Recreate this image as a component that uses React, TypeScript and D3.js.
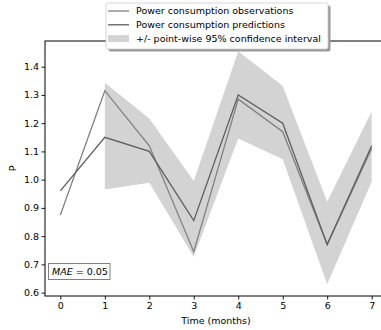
import * as d3 from "d3";
import { useRef, useEffect } from "react";

// months on the x axis
const months = [0, 1, 2, 3, 4, 5, 6, 7];
// observed power consumption
const observations = [0.875, 1.315, 1.12, 0.745, 1.285, 1.17, 0.77, 1.11];
// model predictions
const predictions = [0.96, 1.15, 1.10, 0.855, 1.30, 1.20, 0.77, 1.12];
// confidence interval (starts at month 1)
const ciMonths = [1, 2, 3, 4, 5, 6, 7];
const ciUpper = [1.343, 1.217, 0.995, 1.455, 1.332, 0.922, 1.241];
const ciLower = [0.965, 0.989, 0.727, 1.146, 1.072, 0.630, 0.993];
const yTicks = [0.6, 0.7, 0.8, 0.9, 1.0, 1.1, 1.2, 1.3, 1.4];
const legendLabels = [
  "Power consumption observations",
  "Power consumption predictions",
  "+/- point-wise 95% confidence interval",
];

const W = 381;
const H = 330;
const FONT = "DejaVu Sans, sans-serif";
const FS = 9.5;
const OBS_COLOR = "#808080";
const PRED_COLOR = "#5e5e5e";
const BAND_COLOR = "#d3d3d3";

export default function App() {
  const svgRef = useRef<SVGSVGElement>(null);

  useEffect(() => {
    const svg = d3.select(svgRef.current);
    svg.selectAll("*").remove();

    const left = 45, top = 41, right = 387, bottom = 296;

    const x = d3.scaleLinear().domain([-0.345, 7.345]).range([left, right]);
    const y = d3.scaleLinear().domain([0.588, 1.491]).range([bottom, top]);

    const g = svg.append("g");

    // confidence band
    const area = d3.area<number>()
      .x((d, i) => x(ciMonths[i]))
      .y0((d, i) => y(ciLower[i]))
      .y1((d) => y(d));
    g.append("path").attr("d", area(ciUpper)).attr("fill", BAND_COLOR);

    const line = d3.line<number>().x((d, i) => x(months[i])).y((d) => y(d));
    g.append("path").attr("d", line(observations)).attr("fill", "none")
      .attr("stroke", OBS_COLOR).attr("stroke-width", 1.3);
    g.append("path").attr("d", line(predictions)).attr("fill", "none")
      .attr("stroke", PRED_COLOR).attr("stroke-width", 1.3);

    // axes
    const xAxis = g.append("g").attr("transform", `translate(0,${bottom})`)
      .call(d3.axisBottom(x).tickValues(months).tickFormat(d3.format("d")).tickSize(3.5).tickSizeOuter(0).tickPadding(3));
    const yAxis = g.append("g").attr("transform", `translate(${left},0)`)
      .call(d3.axisLeft(y).tickValues(yTicks).tickFormat(d3.format(".1f")).tickSize(3.5).tickSizeOuter(0).tickPadding(2.5));
    [xAxis, yAxis].forEach((a) => {
      a.select(".domain").remove();
      a.selectAll("text").attr("font-family", FONT).attr("font-size", FS).attr("fill", "#000");
      a.selectAll("line").attr("stroke", "#000").attr("stroke-width", 0.9);
    });

    // spines
    g.append("rect").attr("x", left).attr("y", top).attr("width", right - left).attr("height", bottom - top)
      .attr("fill", "none").attr("stroke", "#000").attr("stroke-width", 1);

    // axis labels
    svg.append("text").attr("x", (left + right) / 2).attr("y", 324).attr("text-anchor", "middle")
      .attr("font-family", FONT).attr("font-size", FS).text("Time (months)");
    svg.append("text").attr("transform", `translate(16,${(top + bottom) / 2}) rotate(-90)`).attr("text-anchor", "middle")
      .attr("font-family", FONT).attr("font-size", FS).text("P");

    // MAE box
    svg.append("rect").attr("x", 48.5).attr("y", 263.5).attr("width", 61.5).attr("height", 16)
      .attr("fill", "#fff").attr("stroke", "#808080").attr("stroke-width", 1);
    const mae = svg.append("text").attr("x", 52).attr("y", 275).attr("font-family", FONT).attr("font-size", FS);
    mae.append("tspan").attr("font-style", "italic").text("MAE");
    mae.append("tspan").text(" = 0.05");

    // legend with shadow
    const lx = 106, ly = 3, lw = 222, lh = 46;
    svg.append("rect").attr("x", lx + 2.5).attr("y", ly + 2.5).attr("width", lw).attr("height", lh).attr("rx", 2)
      .attr("fill", "#9a9a9a");
    svg.append("rect").attr("x", lx).attr("y", ly).attr("width", lw).attr("height", lh).attr("rx", 2)
      .attr("fill", "#fff").attr("stroke", "#cccccc").attr("stroke-width", 0.8);
    const rowY = [11, 24.8, 38.6];
    const leg = svg.append("g");
    leg.append("line").attr("x1", 108).attr("x2", 129).attr("y1", rowY[0]).attr("y2", rowY[0])
      .attr("stroke", OBS_COLOR).attr("stroke-width", 1.3);
    leg.append("line").attr("x1", 108).attr("x2", 129).attr("y1", rowY[1]).attr("y2", rowY[1])
      .attr("stroke", PRED_COLOR).attr("stroke-width", 1.3);
    leg.append("rect").attr("x", 108).attr("y", rowY[2] - 3.5).attr("width", 21).attr("height", 7)
      .attr("fill", BAND_COLOR);
    leg.selectAll("text.lbl").data(legendLabels).enter().append("text").attr("class", "lbl")
      .attr("x", 136).attr("y", (d, i) => rowY[i] + 3.4)
      .attr("font-family", FONT).attr("font-size", FS).attr("fill", "#000").text((d) => d);
  }, []);

  return (
    <svg ref={svgRef} width={W} height={H}
      style={{ position: "absolute", left: 0, top: 0, background: "#fff" }} />
  );
}
